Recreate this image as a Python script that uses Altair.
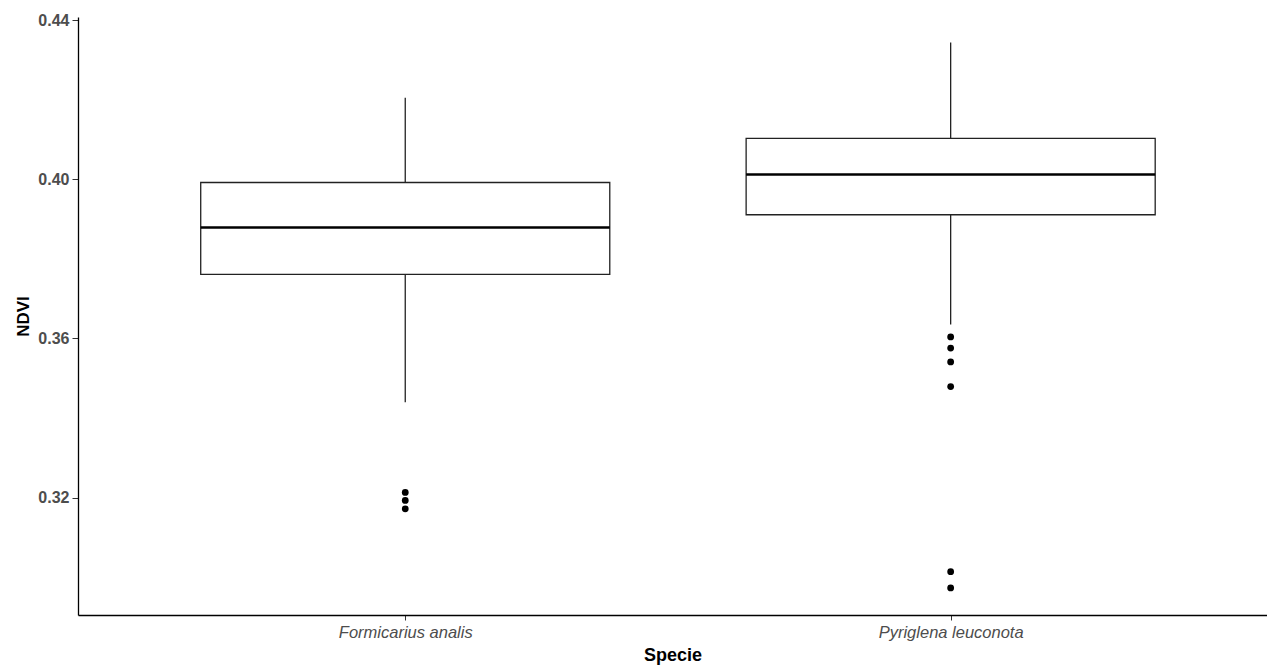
import altair as alt
import pandas as pd

# ---- data ----
species = ["Formicarius analis", "Pyriglena leuconota"]
positions = [1, 2]
whisker_low = [0.3440, 0.3635]
q1 = [0.3761, 0.3911]
median = [0.3879, 0.4012]
q3 = [0.3992, 0.4103]
whisker_high = [0.4205, 0.4344]

outliers_formicarius = [0.3213, 0.3193, 0.3172]
outliers_pyriglena = [0.3604, 0.3576, 0.3541, 0.3479, 0.3014, 0.2973]

y_ticks = [0.32, 0.36, 0.40, 0.44]
y_domain = [0.2905, 0.4408]
x_domain = [0.4, 2.58]
box_half = 0.375

stats = pd.DataFrame({
    "species": species,
    "pos": positions,
    "lo": whisker_low,
    "q1": q1,
    "med": median,
    "q3": q3,
    "hi": whisker_high,
})
stats["left"] = stats["pos"] - box_half
stats["right"] = stats["pos"] + box_half

out = pd.DataFrame({
    "pos": [1] * len(outliers_formicarius) + [2] * len(outliers_pyriglena),
    "val": outliers_formicarius + outliers_pyriglena,
})

label_expr = "datum.value == 1 ? '" + species[0] + "' : datum.value == 2 ? '" + species[1] + "' : ''"

x_scale = alt.Scale(domain=x_domain, nice=False, zero=False)
y_scale = alt.Scale(domain=y_domain, nice=False, zero=False)

x_axis = alt.Axis(
    title="Specie", values=positions, labelExpr=label_expr, grid=False,
    labelFont="Liberation Sans", labelFontStyle="italic", labelFontSize=16.5,
    labelColor="#4D4D4D", labelPadding=4, tickSize=5, tickColor="#333333",
    domainColor="#000000", domainWidth=1.3,
    titleFont="Liberation Sans", titleFontSize=18, titleFontWeight="bold",
    titleColor="#000000", titlePadding=6,
)
y_axis = alt.Axis(
    title="NDVI", values=y_ticks, format=".2f", grid=False,
    labelFont="Liberation Sans", labelFontWeight="bold", labelFontSize=16,
    labelColor="#4D4D4D", labelPadding=3, tickSize=6, tickColor="#333333",
    domainColor="#000000", domainWidth=1.3,
    titleFont="Liberation Sans", titleFontSize=17, titleFontWeight="bold",
    titleColor="#000000", titlePadding=5,
)

base = alt.Chart(stats)

whisk_low = base.mark_rule(color="#222222", strokeWidth=1.3).encode(
    x=alt.X("pos:Q", scale=x_scale, axis=x_axis),
    y=alt.Y("lo:Q", scale=y_scale, axis=y_axis),
    y2="q1:Q",
)
whisk_high = base.mark_rule(color="#222222", strokeWidth=1.3).encode(
    x="pos:Q", y="q3:Q", y2="hi:Q",
)
box = base.mark_rect(fill="white", stroke="#222222", strokeWidth=1.3).encode(
    x="left:Q", x2="right:Q", y="q1:Q", y2="q3:Q",
)
med = base.mark_rule(color="#000000", strokeWidth=2.6).encode(
    x="left:Q", x2="right:Q", y="med:Q",
)
pts = alt.Chart(out).mark_circle(color="#000000", opacity=1, size=46).encode(
    x="pos:Q", y="val:Q",
)

chart = alt.layer(whisk_low, whisk_high, box, med, pts).properties(
    width=1189, height=598,
    background="white",
    autosize=alt.AutoSizeParams(type="none"),
    padding={"left": 78, "top": 17, "right": 0, "bottom": 51},
).configure_view(strokeWidth=0, stroke="transparent")

chart.save("out.html", embed_options={"renderer": "svg", "actions": False})
